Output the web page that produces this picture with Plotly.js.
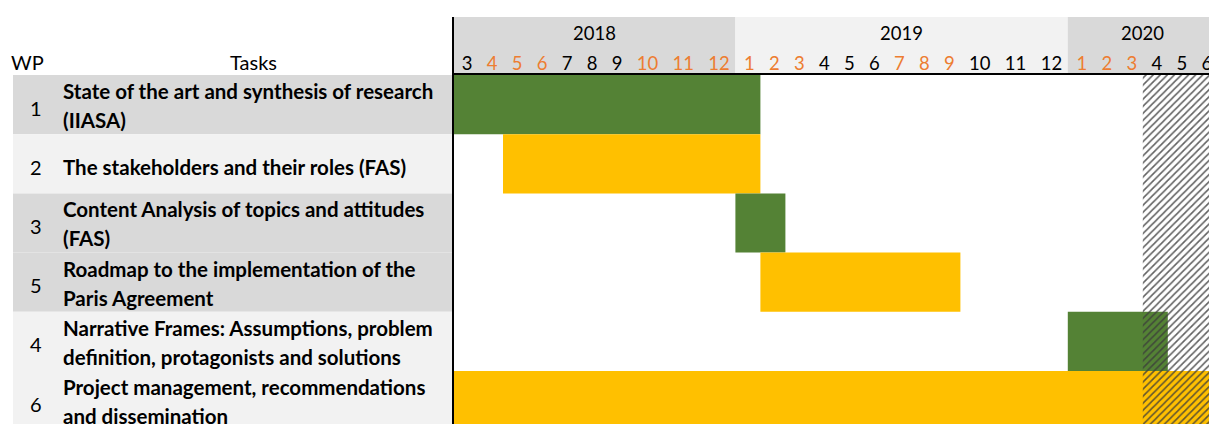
<!DOCTYPE html>
<html>
<head>
<meta charset="utf-8">
<script src="https://cdn.plot.ly/plotly-3.0.1.min.js"></script>
<style>html,body{margin:0;padding:0;background:#fff;}#chart{width:1209px;height:424px;}</style>
</head>
<body>
<div id="chart"></div>
<script>
// ---------- DATA ----------
const months = [3,4,5,6,7,8,9,10,11,12, 1,2,3,4,5,6,7,8,9,10,11,12, 1,2,3,4,5,6];
const monthYears = [2018,2018,2018,2018,2018,2018,2018,2018,2018,2018,
                    2019,2019,2019,2019,2019,2019,2019,2019,2019,2019,2019,2019,
                    2020,2020,2020,2020,2020,2020];
const monthHighlight = [0,1,1,1,0,0,0,1,1,1, 1,1,1,0,0,0,1,1,1,0,0,0, 1,1,1,0,0,0];
const years = [2018, 2019, 2020];

const wpNumbers = ['1','2','3','5','4','6'];
const taskLines = [
  ['State of the art and synthesis of research', '(IIASA)'],
  ['The stakeholders and their roles (FAS)'],
  ['Content Analysis of topics and attitudes', '(FAS)'],
  ['Roadmap to the implementation of the', 'Paris Agreement'],
  ['Narrative Frames: Assumptions, problem', 'definition, protagonists and solutions'],
  ['Project management, recommendations', 'and dissemination']
];
const taskStart = ['2018-03','2018-05','2019-01','2019-02','2020-01','2018-03'];
const taskEnd   = ['2019-01','2019-01','2019-02','2019-09','2020-04','2020-06'];
const hatchStart = '2020-04';
const hatchEnd   = '2020-06';

// ---------- STYLE ----------
const GREEN = '#548235', YELLOW = '#ffc000', ORANGE = '#ed7d31';
const GRAY = '#d9d9d9', LIGHT = '#f2f2f2';
const taskColors = [GREEN, YELLOW, GREEN, YELLOW, GREEN, YELLOW];
const rowFills = [GRAY, LIGHT, GRAY, GRAY, LIGHT, LIGHT];
const yearFills = [GRAY, LIGHT, GRAY];
const FONT = 'Lato, "Open Sans", sans-serif';
const W = 1209, H = 424;
const tableLeft = 13, chartLeft = 453, headerBottom = 75, yearTop = 17;
const rowsVisible = 5.895;
const narrowCol = 25, wideCol = 35.8;   // Excel column widths (px) for 1- and 2-digit months
const digitSize = 18.5, textSize = 20, taskSize = 20.5;

// ---------- SCALE HELPERS ----------
const keys = months.map((m, i) => monthYears[i] + '-' + String(m).padStart(2, '0'));
const edges = [0];
months.forEach(m => edges.push(edges[edges.length - 1] + (m >= 10 ? wideCol : narrowCol)));
const idx = k => keys.indexOf(k);
const startX = k => edges[idx(k)];
const endX = k => edges[idx(k) + 1];
const centers = months.map((m, i) => (edges[i] + edges[i + 1]) / 2 + 1.5);
const px2py = p => 1 - p / H;
const px2px = p => p / W;

// ---------- TRACES ----------
const rowsY = wpNumbers.map((_, i) => i + 0.5);
const taskTrace = {
  type: 'bar', orientation: 'h',
  y: rowsY,
  base: taskStart.map(startX),
  x: taskStart.map((s, i) => endX(taskEnd[i]) - startX(s)),
  width: wpNumbers.map(() => 1),
  marker: {color: taskColors, line: {width: 0}},
  hoverinfo: 'skip'
};
const hatchTrace = {
  type: 'bar', orientation: 'h',
  y: [wpNumbers.length / 2],
  base: [startX(hatchStart)],
  x: [endX(hatchEnd) - startX(hatchStart)],
  width: [wpNumbers.length],
  marker: {color: 'rgba(0,0,0,0)', line: {width: 0},
           pattern: {shape: '/', fillmode: 'overlay', fgcolor: '#3a3a3a', fgopacity: 0.8, size: 5, solidity: 0.32}},
  hoverinfo: 'skip'
};

// ---------- SHAPES ----------
const shapes = [];
rowFills.forEach((c, i) => shapes.push({
  type: 'rect', xref: 'paper', yref: 'y', x0: px2px(tableLeft), x1: px2px(chartLeft), y0: i, y1: i + 1,
  fillcolor: c, line: {width: 0}, layer: 'below'
}));
years.forEach((y, j) => {
  const ids = monthYears.map((yy, i) => yy === y ? i : -1).filter(i => i >= 0);
  shapes.push({
    type: 'rect', xref: 'x', yref: 'paper', x0: edges[ids[0]], x1: edges[ids[ids.length - 1] + 1],
    y0: px2py(headerBottom), y1: px2py(yearTop), fillcolor: yearFills[j], line: {width: 0}, layer: 'below'
  });
});
shapes.push({type: 'line', xref: 'paper', yref: 'paper', x0: px2px(chartLeft), x1: px2px(chartLeft),
  y0: 0, y1: px2py(yearTop), line: {color: '#000', width: 2}});

// ---------- ANNOTATIONS ----------
const ann = [];
const digitFont = {family: FONT, size: digitSize, color: '#000'};
const textFont = {family: FONT, size: textSize, color: '#000'};
years.forEach(y => {
  const ids = monthYears.map((yy, i) => yy === y ? i : -1).filter(i => i >= 0);
  ann.push({xref: 'x', yref: 'paper', x: (edges[ids[0]] + edges[ids[ids.length - 1] + 1]) / 2, y: px2py(33),
    text: String(y), showarrow: false, xanchor: 'center', yanchor: 'middle', font: digitFont});
});
ann.push({xref: 'paper', yref: 'paper', x: px2px(27), y: px2py(62), text: 'WP', showarrow: false,
  xanchor: 'center', yanchor: 'middle', font: textFont});
ann.push({xref: 'paper', yref: 'paper', x: px2px(253), y: px2py(62), text: 'Tasks', showarrow: false,
  xanchor: 'center', yanchor: 'middle', font: textFont});
wpNumbers.forEach((n, i) => {
  ann.push({xref: 'paper', yref: 'y', x: px2px(36), y: i + 0.55, text: n, showarrow: false,
    xanchor: 'center', yanchor: 'middle', font: textFont});
  const lines = taskLines[i];
  lines.forEach((t, k) => {
    const off = lines.length === 1 ? 0.05 : (k === 0 ? -0.23 : 0.26);
    ann.push({xref: 'paper', yref: 'y', x: px2px(61), y: i + 0.5 + off, text: '<b>' + t + '</b>',
      showarrow: false, xanchor: 'left', yanchor: 'middle', font: {family: FONT, size: taskSize, color: '#000'}});
  });
});

// ---------- LAYOUT ----------
const layout = {
  width: W, height: H, margin: {l: 0, r: 0, t: 0, b: 0, pad: 0},
  paper_bgcolor: '#fff', plot_bgcolor: 'rgba(0,0,0,0)',
  showlegend: false, barmode: 'overlay',
  xaxis: {
    domain: [px2px(chartLeft), 1], range: [0, W - chartLeft], side: 'top',
    tickmode: 'array', tickvals: centers,
    ticktext: months.map((m, i) => monthHighlight[i] ? '<span style="color:' + ORANGE + '">' + m + '</span>' : String(m)),
    ticks: '', tickfont: digitFont, ticklabeloverflow: 'allow', ticklabelstandoff: -4,
    showgrid: false, zeroline: false, showline: true, linecolor: '#000', linewidth: 2, fixedrange: true
  },
  yaxis: {
    domain: [0, px2py(headerBottom)], range: [rowsVisible, 0],
    showticklabels: false, showgrid: false, zeroline: false, showline: false, fixedrange: true
  },
  shapes: shapes, annotations: ann
};

Plotly.newPlot('chart', [taskTrace, hatchTrace], layout, {displayModeBar: false, staticPlot: true});
</script>
</body>
</html>
